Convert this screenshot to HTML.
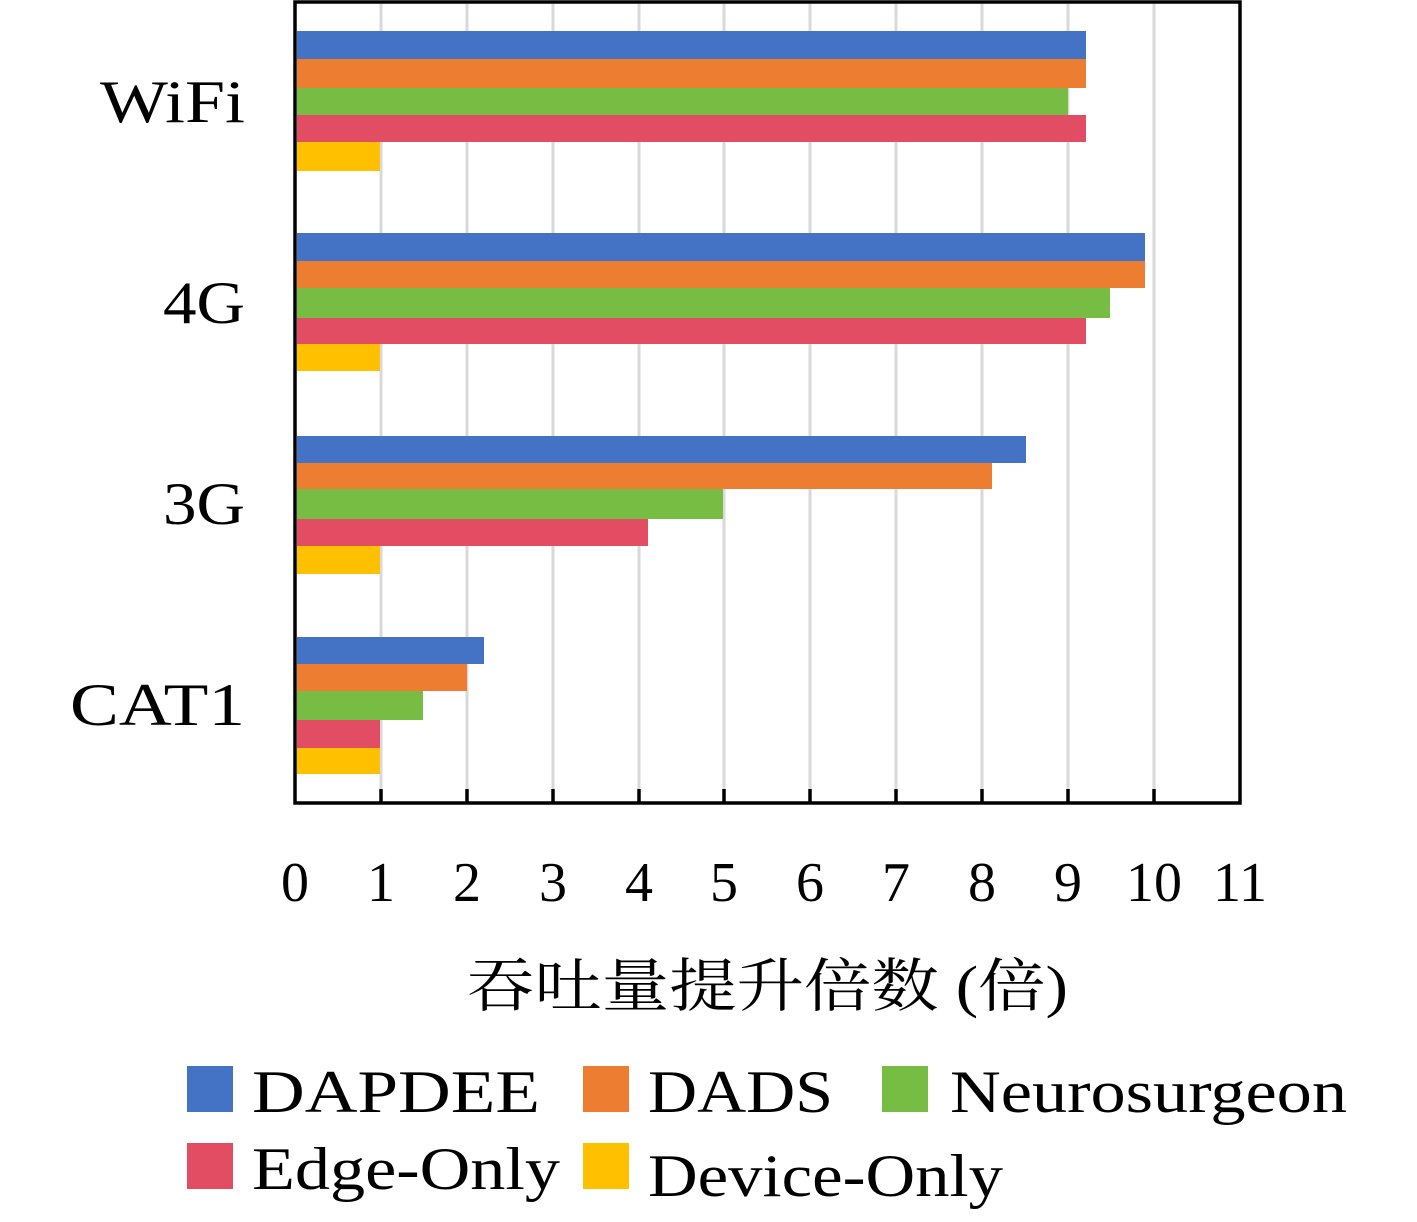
<!DOCTYPE html>
<html><head><style>body{margin:0;background:#fff}</style></head><body>
<svg width="1417" height="1217" xmlns="http://www.w3.org/2000/svg" font-family="Liberation Serif, Noto Serif CJK SC, serif">
<g stroke="#d9d9d9" stroke-width="3">
<line x1="381" y1="4" x2="381" y2="802"/><line x1="467" y1="4" x2="467" y2="802"/><line x1="553" y1="4" x2="553" y2="802"/><line x1="639" y1="4" x2="639" y2="802"/><line x1="724" y1="4" x2="724" y2="802"/><line x1="810" y1="4" x2="810" y2="802"/><line x1="896" y1="4" x2="896" y2="802"/><line x1="982" y1="4" x2="982" y2="802"/><line x1="1068" y1="4" x2="1068" y2="802"/><line x1="1154" y1="4" x2="1154" y2="802"/>
</g>
<g>
<rect x="297" y="31" width="789" height="28" fill="#4472C4"/><rect x="297" y="59" width="789" height="29" fill="#ED7D31"/><rect x="297" y="88" width="771" height="27" fill="#77BC43"/><rect x="297" y="115" width="789" height="27" fill="#E34D63"/><rect x="297" y="142" width="83" height="29" fill="#FFC000"/>
<rect x="297" y="233" width="848" height="28" fill="#4472C4"/><rect x="297" y="261" width="848" height="27" fill="#ED7D31"/><rect x="297" y="288" width="813" height="30" fill="#77BC43"/><rect x="297" y="318" width="789" height="26" fill="#E34D63"/><rect x="297" y="344" width="83" height="27" fill="#FFC000"/>
<rect x="297" y="436" width="729" height="27" fill="#4472C4"/><rect x="297" y="463" width="695" height="26" fill="#ED7D31"/><rect x="297" y="489" width="426" height="30" fill="#77BC43"/><rect x="297" y="519" width="351" height="27" fill="#E34D63"/><rect x="297" y="546" width="83" height="28" fill="#FFC000"/>
<rect x="297" y="637" width="187" height="27" fill="#4472C4"/><rect x="297" y="664" width="170" height="27" fill="#ED7D31"/><rect x="297" y="691" width="126" height="29" fill="#77BC43"/><rect x="297" y="720" width="83" height="28" fill="#E34D63"/><rect x="297" y="748" width="83" height="26" fill="#FFC000"/>
</g>
<rect x="295" y="2" width="945" height="801" fill="none" stroke="#000" stroke-width="3.5"/>
<g stroke="#000" stroke-width="3.5">
<line x1="381" y1="789" x2="381" y2="803"/><line x1="467" y1="789" x2="467" y2="803"/><line x1="553" y1="789" x2="553" y2="803"/><line x1="639" y1="789" x2="639" y2="803"/><line x1="724" y1="789" x2="724" y2="803"/><line x1="810" y1="789" x2="810" y2="803"/><line x1="896" y1="789" x2="896" y2="803"/><line x1="982" y1="789" x2="982" y2="803"/><line x1="1068" y1="789" x2="1068" y2="803"/><line x1="1154" y1="789" x2="1154" y2="803"/>
</g>
<g font-size="60" lengthAdjust="spacingAndGlyphs">
<text x="100" y="122" textLength="145" lengthAdjust="spacingAndGlyphs">WiFi</text><text x="163" y="323" textLength="82" lengthAdjust="spacingAndGlyphs">4G</text><text x="163" y="524" textLength="82" lengthAdjust="spacingAndGlyphs">3G</text><text x="70" y="725" textLength="175" lengthAdjust="spacingAndGlyphs">CAT1</text>
</g>
<g font-size="56" text-anchor="middle">
<text x="295" y="901">0</text><text x="381" y="901">1</text><text x="467" y="901">2</text><text x="553" y="901">3</text><text x="639" y="901">4</text><text x="724" y="901">5</text><text x="810" y="901">6</text><text x="896" y="901">7</text><text x="982" y="901">8</text><text x="1068" y="901">9</text><text x="1154" y="901">10</text><text x="1240" y="901">11</text>
</g>
<text x="467" y="1006" font-size="58" textLength="601" lengthAdjust="spacingAndGlyphs">吞吐量提升倍数 (倍)</text>
<g font-size="60">
<rect x="187" y="1066" width="46" height="46" fill="#4472C4"/><text x="252" y="1112" textLength="288" lengthAdjust="spacingAndGlyphs">DAPDEE</text>
<rect x="583" y="1066" width="46" height="46" fill="#ED7D31"/><text x="648" y="1112" textLength="185" lengthAdjust="spacingAndGlyphs">DADS</text>
<rect x="882" y="1066" width="46" height="46" fill="#77BC43"/><text x="950" y="1112" textLength="397" lengthAdjust="spacingAndGlyphs">Neurosurgeon</text>
<rect x="187" y="1143" width="46" height="46" fill="#E34D63"/><text x="252" y="1189" textLength="308" lengthAdjust="spacingAndGlyphs">Edge-Only</text>
<rect x="583" y="1143" width="46" height="46" fill="#FFC000"/><text x="648" y="1196" textLength="355" lengthAdjust="spacingAndGlyphs">Device-Only</text>
</g>
</svg>
</body></html>
